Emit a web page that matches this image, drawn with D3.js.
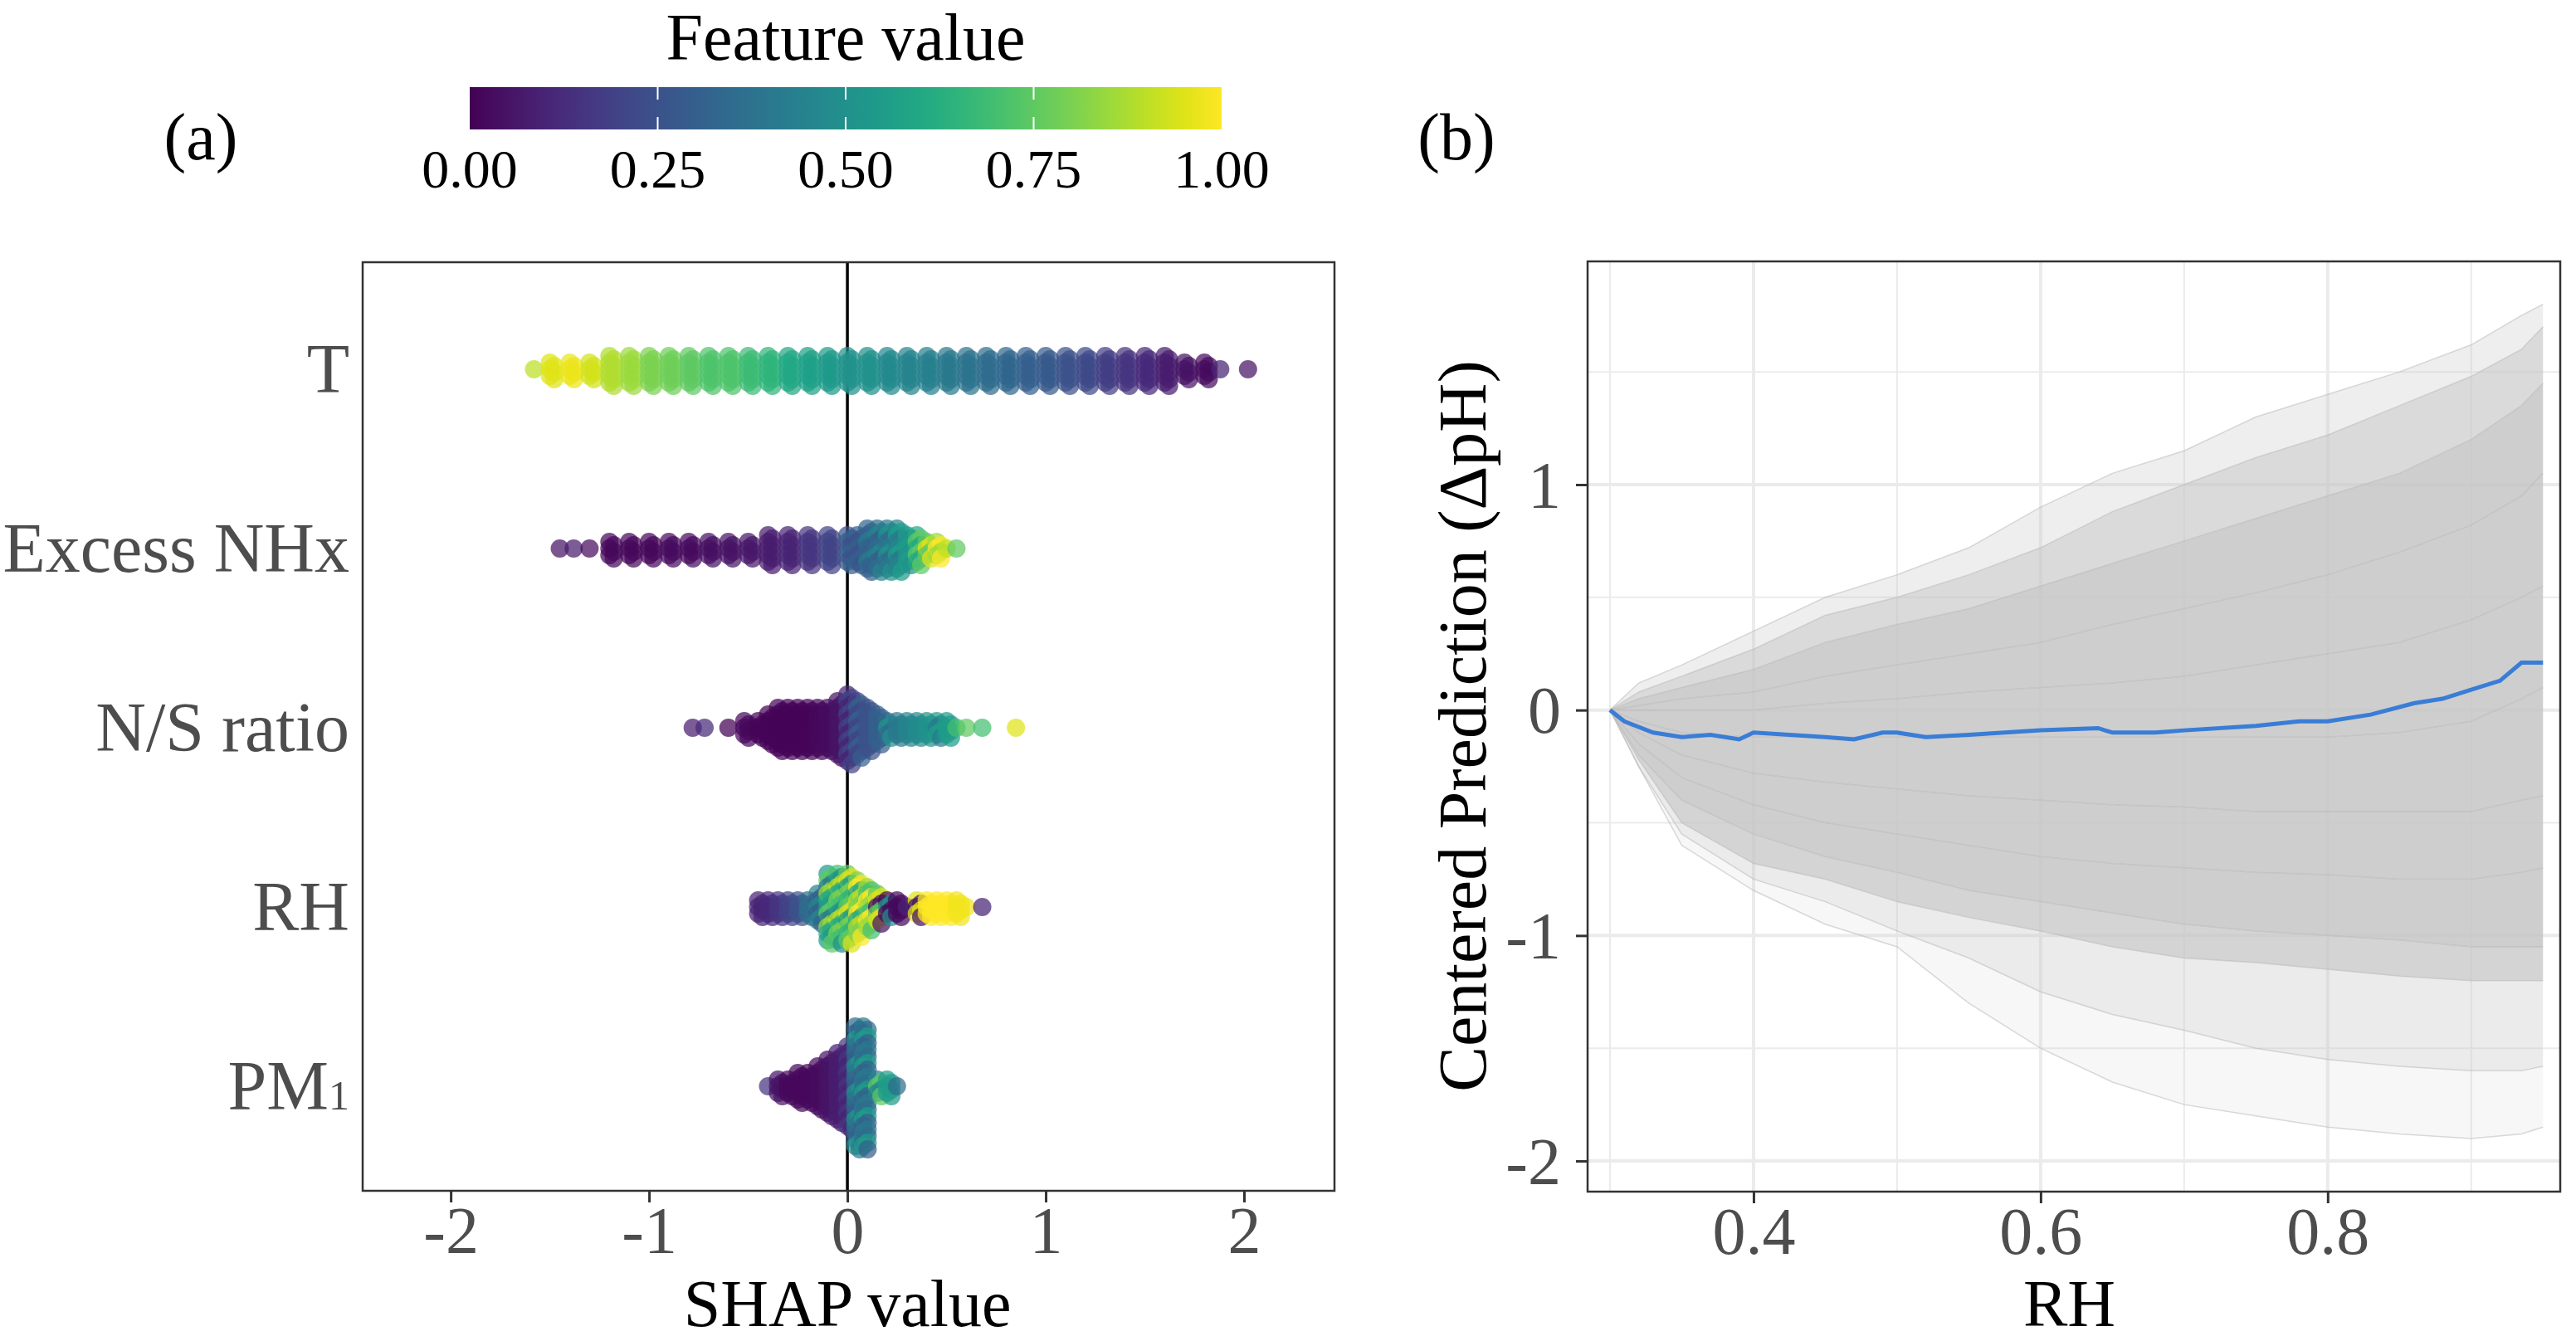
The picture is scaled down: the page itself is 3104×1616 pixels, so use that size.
<!DOCTYPE html>
<html>
<head>
<meta charset="utf-8">
<script src="https://cdn.jsdelivr.net/npm/d3@7"></script>
<style>
  body { margin: 0; background: #fff; }
  text { font-family: "Liberation Serif", "Times New Roman", serif; }
</style>
</head>
<body>
<svg id="chart" width="3104" height="1616"></svg>
<script>
let svg = d3.select('#chart');
let tickGrey = '#4d4d4d';

// ---------- (a) SHAP summary ----------
// rows: [shap value, stacked points each side, feature value (or list)]
let shap = {
  'T': [
    [-1.58,0,0.9],[-1.5,1,0.95],[-1.4,1,0.97],[-1.3,1,0.93],[-1.2,2,0.88],[-1.1,2,0.85],[-1.0,2,0.8],
    [-0.9,2,0.78],[-0.8,2,0.75],[-0.7,2,0.72],[-0.6,2,0.72],[-0.5,2,0.68],[-0.4,2,0.65],[-0.3,2,0.6],
    [-0.2,2,0.57],[-0.1,2,0.54],[0,2,0.5],[0.1,2,0.5],[0.2,2,0.47],[0.3,2,0.45],[0.4,2,0.43],
    [0.5,2,0.4],[0.6,2,0.38],[0.7,2,0.35],[0.8,2,0.33],[0.9,2,0.3],[1.0,2,0.28],[1.1,2,0.25],
    [1.2,2,0.22],[1.3,2,0.18],[1.4,2,0.15],[1.5,2,0.12],[1.6,2,0.08],[1.7,1,0.05],[1.8,1,0.03],
    [1.88,0,0.1],[2.02,0,0.05]
  ],
  'Excess NHx': [
    [-1.45,0,0.05],[-1.38,0,0.08],[-1.3,0,0.03],[-1.2,1,0.02],[-1.1,1,0.02],[-1.0,1,0.02],[-0.9,1,0.03],
    [-0.8,1,0.03],[-0.7,1,0.04],[-0.6,1,0.05],[-0.5,1,0.06],[-0.4,2,0.08],[-0.3,2,0.1],[-0.2,2,0.15],
    [-0.1,2,0.2],[0,2,[0.25,0.3]],[0.05,2,[0.3,0.25]],[0.1,3,[0.32,0.3,0.4]],[0.15,3,[0.35,0.45,0.3]],
    [0.2,3,[0.4,0.5,0.35]],[0.25,3,[0.45,0.55,0.4]],[0.3,2,[0.55,0.5]],[0.35,2,[0.6,0.75]],
    [0.4,1,[0.75,0.95]],[0.45,1,[0.85,1.0]],[0.5,0,0.9],[0.55,0,0.75]
  ],
  'N/S ratio': [
    [-0.78,0,0.08],[-0.72,0,0.12],[-0.6,0,0.0],[-0.52,1,0.02],[-0.45,1,0.01],[-0.4,2,0.01],[-0.35,3,0.01],
    [-0.3,3,0.01],[-0.25,3,0.01],[-0.2,3,0.01],[-0.15,3,0.02],[-0.1,3,0.03],[-0.05,4,0.05],[0,5,[0.1,0.2]],
    [0.05,4,[0.2,0.3]],[0.1,3,0.25],[0.15,2,0.3],[0.2,1,[0.35,0.5]],[0.25,1,0.4],[0.3,1,0.45],
    [0.35,1,0.48],[0.4,1,0.5],[0.45,1,[0.55,0.4]],[0.5,1,0.55],[0.55,0,0.7],[0.6,0,0.75],
    [0.68,0,0.7],[0.85,0,0.95]
  ],
  'RH': [
    [-0.45,1,0.1],[-0.4,1,0.12],[-0.35,1,0.15],[-0.3,1,0.2],[-0.25,1,0.25],[-0.2,1,0.35],
    [-0.15,2,[0.45,0.3]],[-0.1,5,[0.55,0.75,0.4,0.85,0.6]],[-0.05,5,[0.7,0.5,0.9,0.6,0.8]],
    [0,5,[0.75,0.95,0.55,0.8,0.65]],[0.05,4,[0.8,1.0,0.6,0.9]],[0.1,3,[0.85,0.7,1.0]],
    [0.15,2,[0.75,0.95,0.05]],[0.2,1,[0.02,0.5]],[0.25,1,0.02],[0.3,0,0.1],[0.35,1,[0.95,0.05]],
    [0.4,1,1.0],[0.45,1,1.0],[0.5,1,1.0],[0.55,1,0.98],[0.6,0,0.98],[0.68,0,0.1]
  ],
  'PM1': [
    [-0.4,0,0.15],[-0.35,1,0.05],[-0.3,1,0.02],[-0.25,2,0.02],[-0.2,2,0.02],[-0.15,3,0.03],
    [-0.1,4,0.05],[-0.05,5,0.08],[0,6,[0.15,0.1]],[0.04,9,[0.35,0.3,0.5,0.4]],[0.08,9,[0.4,0.35,0.55,0.3]],
    [0.15,1,[0.45,0.75]],[0.2,1,0.55],[0.25,0,0.35]
  ]
};
let features = Object.keys(shap);

let xA = d3.scaleLinear().domain([-2.444, 2.456]).range([437, 1608]);
let yA = d3.scalePoint().domain(features).range([445, 1309]);

let pts = [];
features.forEach(function (f) {
  shap[f].forEach(function (b) {
    let fv = Array.isArray(b[2]) ? b[2] : [b[2]];
    for (let k = -b[1]; k <= b[1]; k++) {
      let c = fv[(k + b[1]) % fv.length];
      pts.push({ x: b[0], dy: k * 8, f: f, v: c });
      if (b[1] > 0) pts.push({ x: b[0] + 0.022, dy: k * 8 + 4, f: f, v: fv[(k + b[1] + 1) % fv.length] });
    }
  });
});

let gA = svg.append('g');
gA.append('line')
  .attr('x1', xA(0)).attr('x2', xA(0)).attr('y1', 316).attr('y2', 1435)
  .attr('stroke', '#000').attr('stroke-width', 3.5);

gA.selectAll('circle').data(pts).enter().append('circle')
  .attr('cx', d => xA(d.x))
  .attr('cy', d => yA(d.f) + d.dy)
  .attr('r', 11)
  .attr('fill', d => d3.interpolateViridis(d.v))
  .attr('fill-opacity', 0.72);

gA.append('rect').attr('x', 437).attr('y', 316).attr('width', 1171).attr('height', 1119)
  .attr('fill', 'none').attr('stroke', '#333').attr('stroke-width', 2.5);

let axA = gA.append('g').attr('transform', 'translate(0,1435)')
  .call(d3.axisBottom(xA).tickValues([-2, -1, 0, 1, 2]).tickSize(14).tickFormat(d => String(d)));
axA.select('.domain').remove();
axA.selectAll('line').attr('stroke', '#333').attr('stroke-width', 3);
axA.selectAll('text').attr('font-size', 80).attr('fill', tickGrey).attr('dy', null).attr('y', 75);

features.forEach(function (f) {
  let t = gA.append('text').attr('x', 421).attr('y', yA(f) + 28).attr('text-anchor', 'end')
    .attr('font-size', 84).attr('fill', tickGrey);
  if (f === 'PM1') {
    t.text('PM');
    t.append('tspan').attr('font-size', 50).text('1');
  } else {
    t.text(f);
  }
});

gA.append('text').attr('x', xA(0)).attr('y', 1598).attr('text-anchor', 'middle')
  .attr('font-size', 80).text('SHAP value');
gA.append('text').attr('x', 242).attr('y', 192).attr('text-anchor', 'middle')
  .attr('font-size', 80).text('(a)');

// colour bar
let defs = svg.append('defs');
let grad = defs.append('linearGradient').attr('id', 'viridis');
d3.range(0, 1.001, 0.05).forEach(function (t) {
  grad.append('stop').attr('offset', t).attr('stop-color', d3.interpolateViridis(t));
});
let xC = d3.scaleLinear().domain([0, 1]).range([566, 1472]);
svg.append('rect').attr('x', 566).attr('y', 105).attr('width', 906).attr('height', 51)
  .attr('fill', 'url(#viridis)');
[0.25, 0.5, 0.75].forEach(function (t) {
  svg.append('line').attr('x1', xC(t)).attr('x2', xC(t)).attr('y1', 105).attr('y2', 120)
    .attr('stroke', '#fff').attr('stroke-width', 2);
  svg.append('line').attr('x1', xC(t)).attr('x2', xC(t)).attr('y1', 141).attr('y2', 156)
    .attr('stroke', '#fff').attr('stroke-width', 2);
});
[0, 0.25, 0.5, 0.75, 1].forEach(function (t) {
  svg.append('text').attr('x', xC(t)).attr('y', 226).attr('text-anchor', 'middle')
    .attr('font-size', 66).attr('fill', '#000').text(d3.format('.2f')(t));
});
svg.append('text').attr('x', 1019).attr('y', 72).attr('text-anchor', 'middle')
  .attr('font-size', 80).text('Feature value');

// ---------- (b) ICE curves ----------
let rh = [0.3, 0.32, 0.35, 0.4, 0.45, 0.5, 0.55, 0.6, 0.65, 0.7, 0.75, 0.8, 0.85, 0.9, 0.935, 0.95];
let ice = [
  [0, 0.12, 0.2, 0.35, 0.5, 0.6, 0.72, 0.9, 1.05, 1.15, 1.3, 1.4, 1.5, 1.62, 1.75, 1.8],
  [0, 0.08, 0.15, 0.27, 0.42, 0.5, 0.6, 0.72, 0.88, 1.0, 1.12, 1.22, 1.35, 1.48, 1.6, 1.7],
  [0, 0.05, 0.1, 0.18, 0.3, 0.38, 0.45, 0.55, 0.65, 0.75, 0.85, 0.95, 1.05, 1.2, 1.35, 1.45],
  [0, 0.02, 0.05, 0.08, 0.15, 0.2, 0.25, 0.3, 0.38, 0.45, 0.52, 0.6, 0.7, 0.82, 0.95, 1.05],
  [0, 0, 0, 0, 0.03, 0.05, 0.08, 0.1, 0.12, 0.15, 0.2, 0.25, 0.3, 0.4, 0.5, 0.55],
  [0, -0.05, -0.1, -0.12, -0.12, -0.12, -0.12, -0.12, -0.12, -0.12, -0.12, -0.12, -0.1, -0.05, 0.05, 0.1],
  [0, -0.1, -0.2, -0.28, -0.32, -0.35, -0.38, -0.4, -0.42, -0.43, -0.45, -0.45, -0.45, -0.45, -0.4, -0.38],
  [0, -0.15, -0.3, -0.42, -0.5, -0.55, -0.6, -0.65, -0.68, -0.7, -0.72, -0.73, -0.75, -0.75, -0.72, -0.7],
  [0, -0.2, -0.4, -0.55, -0.65, -0.72, -0.8, -0.85, -0.9, -0.95, -0.98, -1.0, -1.02, -1.05, -1.05, -1.05],
  [0, -0.22, -0.5, -0.68, -0.75, -0.85, -0.92, -0.98, -1.05, -1.1, -1.12, -1.15, -1.18, -1.2, -1.2, -1.2],
  [0, -0.25, -0.55, -0.75, -0.85, -0.98, -1.1, -1.25, -1.35, -1.42, -1.5, -1.55, -1.58, -1.6, -1.6, -1.58],
  [0, -0.25, -0.6, -0.8, -0.95, -1.05, -1.3, -1.5, -1.65, -1.75, -1.8, -1.85, -1.88, -1.9, -1.88, -1.85]
];
let bandOpacity = [0.3, 0.65, 0.85, 0.85, 0.85, 0.85, 0.85, 0.85, 0.75, 0.35, 0.15];
let mean = [
  [0.3, 0], [0.31, -0.05], [0.33, -0.1], [0.35, -0.12], [0.37, -0.11], [0.39, -0.13], [0.4, -0.1],
  [0.45, -0.12], [0.47, -0.13], [0.49, -0.1], [0.5, -0.1], [0.52, -0.12], [0.55, -0.11], [0.6, -0.09],
  [0.64, -0.08], [0.65, -0.1], [0.68, -0.1], [0.7, -0.09], [0.75, -0.07], [0.78, -0.05], [0.8, -0.05],
  [0.83, -0.02], [0.86, 0.03], [0.88, 0.05], [0.9, 0.09], [0.92, 0.13], [0.935, 0.21], [0.95, 0.21]
];

let xB = d3.scaleLinear().domain([0.2844, 0.962]).range([1913, 3085]);
let yB = d3.scaleLinear().domain([-2.136, 1.99]).range([1436, 315]);
let gB = svg.append('g');

// grid
[0.3, 0.5, 0.7, 0.9].forEach(v => gB.append('line').attr('x1', xB(v)).attr('x2', xB(v))
  .attr('y1', 315).attr('y2', 1436).attr('stroke', '#ebebeb').attr('stroke-width', 2));
[-1.5, -0.5, 0.5, 1.5].forEach(v => gB.append('line').attr('y1', yB(v)).attr('y2', yB(v))
  .attr('x1', 1913).attr('x2', 3085).attr('stroke', '#ebebeb').attr('stroke-width', 2));
[0.4, 0.6, 0.8].forEach(v => gB.append('line').attr('x1', xB(v)).attr('x2', xB(v))
  .attr('y1', 315).attr('y2', 1436).attr('stroke', '#ebebeb').attr('stroke-width', 4));
[-2, -1, 0, 1].forEach(v => gB.append('line').attr('y1', yB(v)).attr('y2', yB(v))
  .attr('x1', 1913).attr('x2', 3085).attr('stroke', '#ebebeb').attr('stroke-width', 4));

let area = d3.area().x(d => xB(d.x)).y0(d => yB(d.lo)).y1(d => yB(d.hi));
for (let i = 0; i < ice.length - 1; i++) {
  let band = rh.map((x, j) => ({ x: x, hi: ice[i][j], lo: ice[i + 1][j] }));
  gB.append('path').datum(band).attr('d', area)
    .attr('fill', '#c6c6c6').attr('fill-opacity', bandOpacity[i]);
}
let line = d3.line().x(d => xB(d[0])).y(d => yB(d[1]));
ice.forEach(function (c) {
  gB.append('path').datum(rh.map((x, j) => [x, c[j]])).attr('d', line)
    .attr('fill', 'none').attr('stroke', '#b5b5b5').attr('stroke-opacity', 0.5).attr('stroke-width', 1.5);
});
gB.append('path').datum(mean).attr('d', line)
  .attr('fill', 'none').attr('stroke', '#3a7dd6').attr('stroke-width', 5);

gB.append('rect').attr('x', 1913).attr('y', 315).attr('width', 1172).attr('height', 1121)
  .attr('fill', 'none').attr('stroke', '#333').attr('stroke-width', 2.5);

let axBx = gB.append('g').attr('transform', 'translate(0,1436)')
  .call(d3.axisBottom(xB).tickValues([0.4, 0.6, 0.8]).tickSize(14).tickFormat(d3.format('.1f')));
let axBy = gB.append('g').attr('transform', 'translate(1913,0)')
  .call(d3.axisLeft(yB).tickValues([-2, -1, 0, 1]).tickSize(14).tickFormat(d => String(d)));
[axBx, axBy].forEach(function (a) {
  a.select('.domain').remove();
  a.selectAll('line').attr('stroke', '#333').attr('stroke-width', 3);
  a.selectAll('text').attr('font-size', 80).attr('fill', tickGrey);
});
axBx.selectAll('text').attr('dy', null).attr('y', 75);
axBy.selectAll('text').attr('dy', '0.34em').attr('x', -32);

gB.append('text').attr('x', xB(0.62)).attr('y', 1598).attr('text-anchor', 'middle')
  .attr('font-size', 80).text('RH');
gB.append('text').attr('transform', 'translate(1790,875) rotate(-90)').attr('text-anchor', 'middle')
  .attr('font-size', 82).text('Centered Prediction (ΔpH)');
svg.append('text').attr('x', 1755).attr('y', 192).attr('text-anchor', 'middle')
  .attr('font-size', 80).text('(b)');
</script>
</body>
</html>
